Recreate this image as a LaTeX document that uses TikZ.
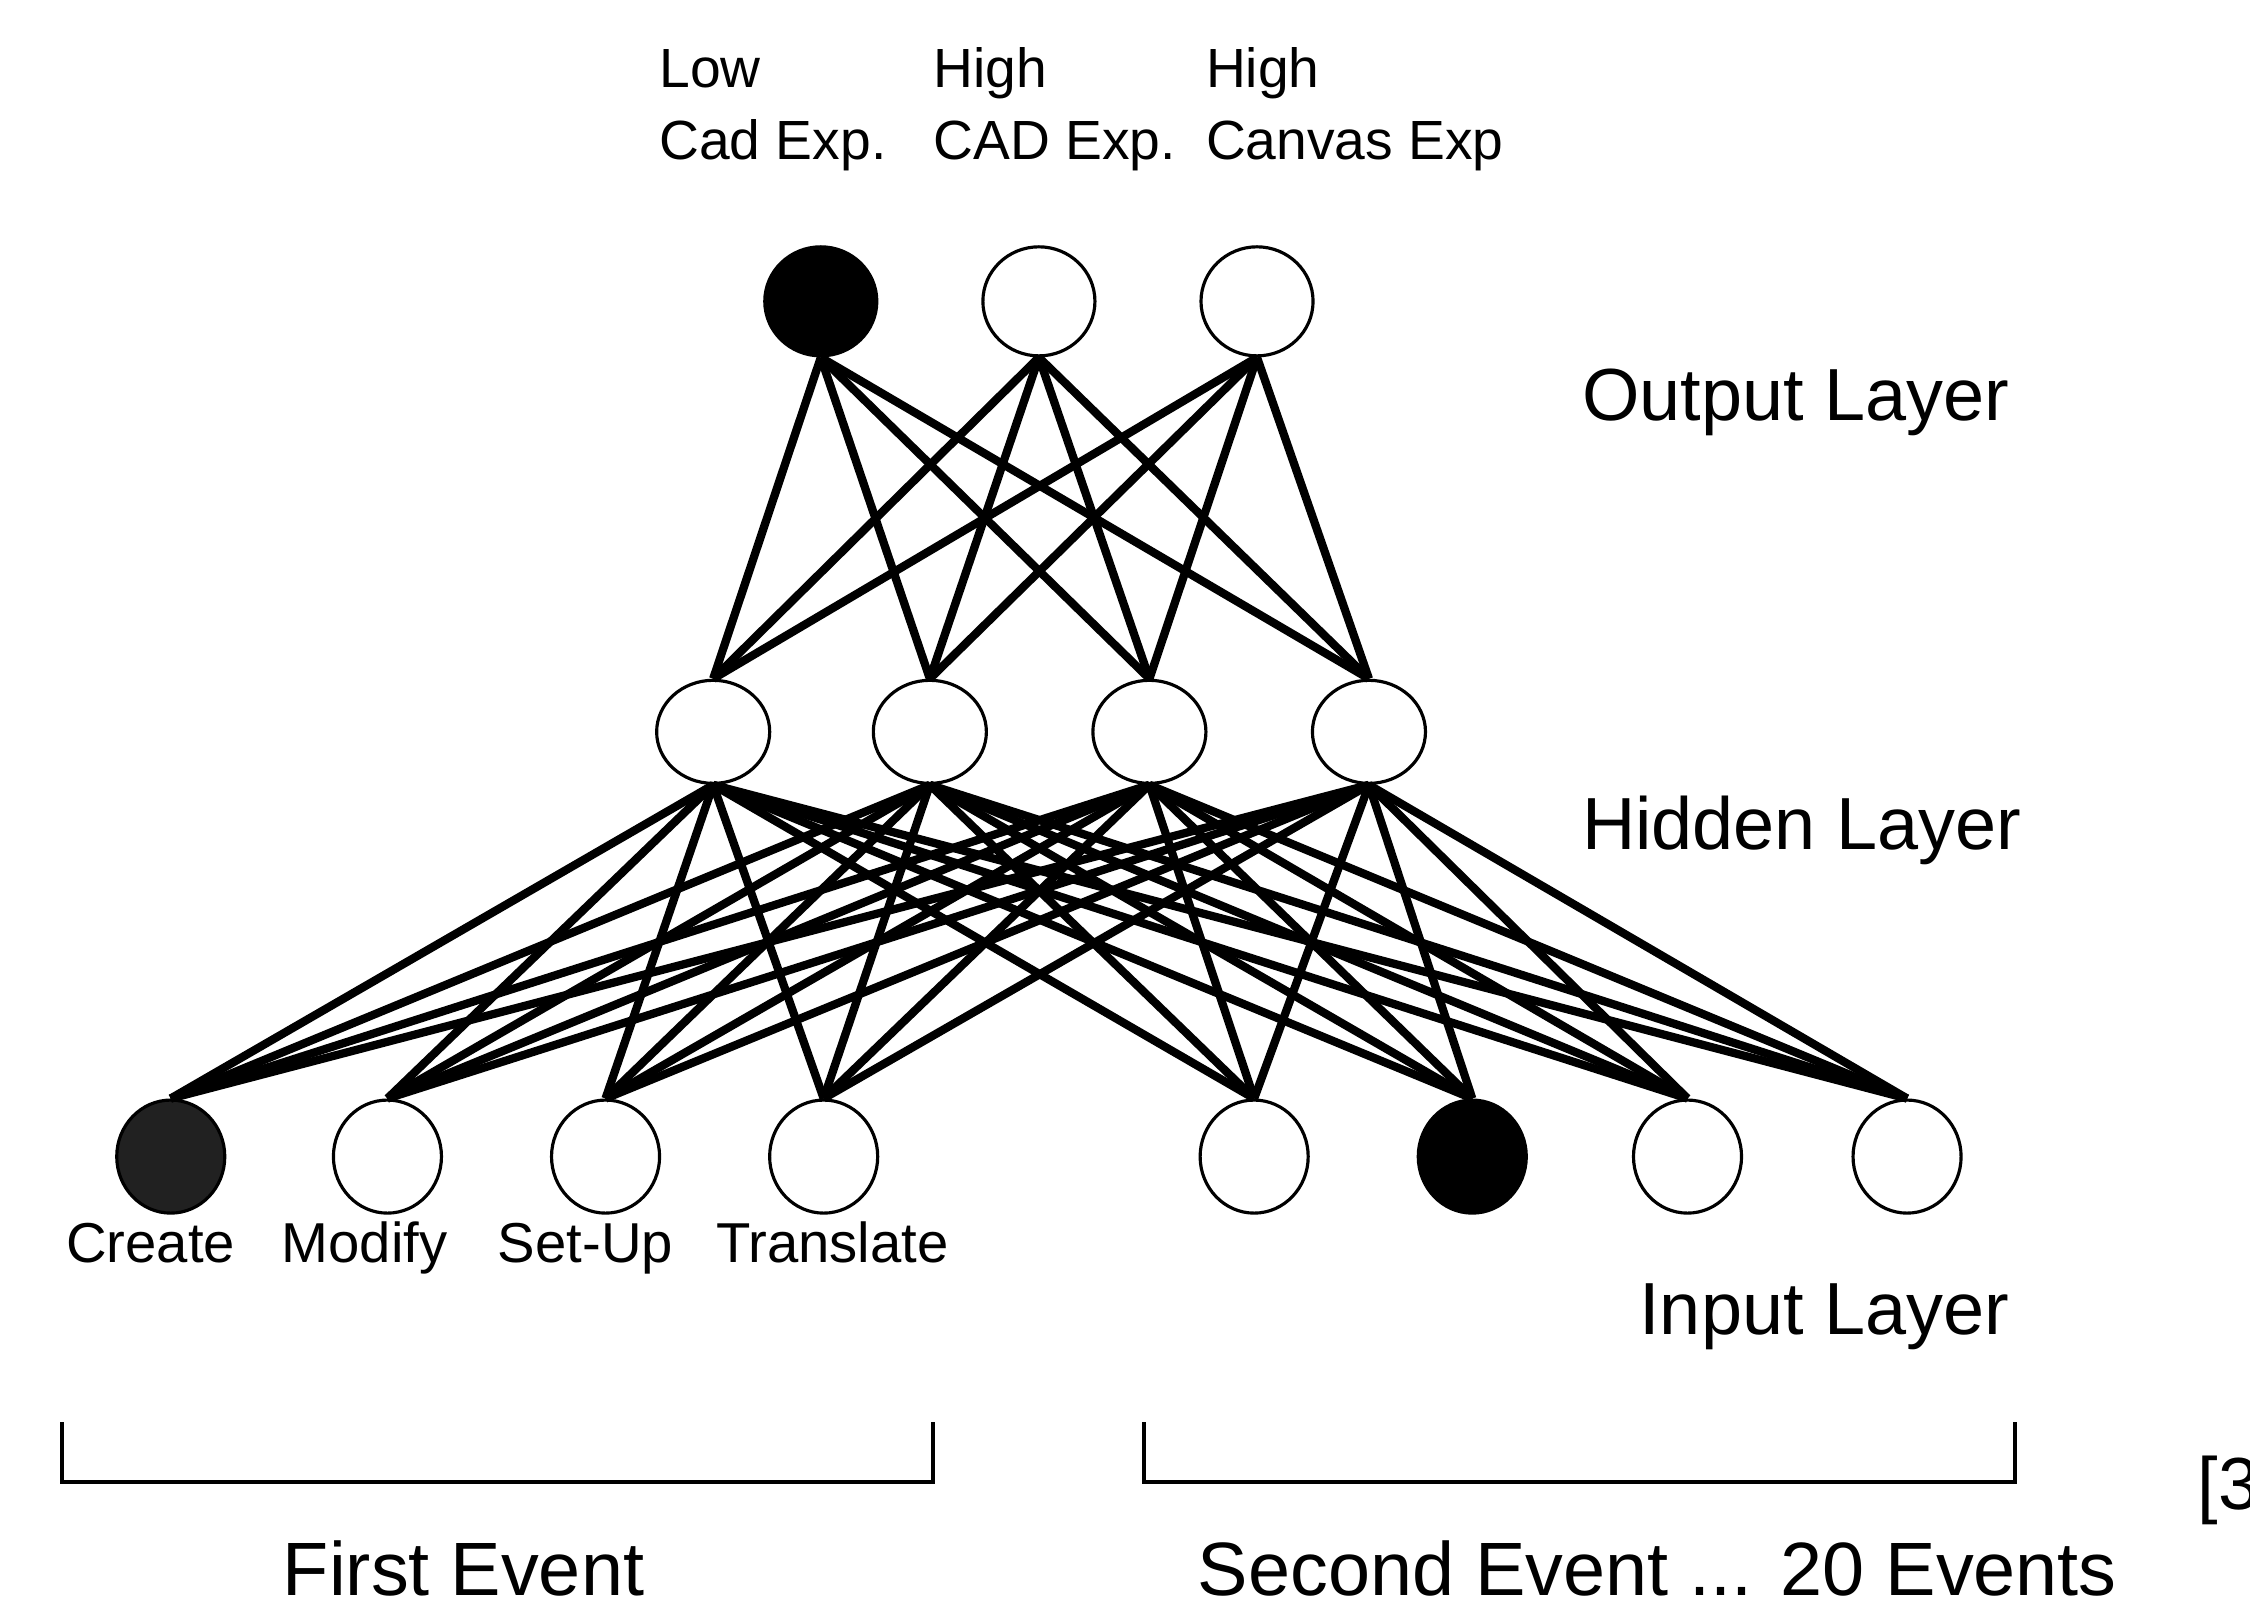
\documentclass[tikz,border=0pt]{standalone}
\usepackage{fontspec}
\setmainfont{Liberation Sans}
\usetikzlibrary{shapes.geometric}
\begin{document}
\begin{tikzpicture}[x=0.01435cm,y=-0.01435cm,
  neuron/.style={ellipse,draw,line width=0.9pt,fill=white,inner sep=0pt},
  outn/.style={neuron,minimum width=1.12cm,minimum height=1.09cm},
  hidn/.style={neuron,minimum width=1.13cm,minimum height=1.03cm},
  inn/.style={neuron,minimum width=1.08cm,minimum height=1.13cm},
  link/.style={line width=2.35pt},
  toplbl/.style={inner sep=0pt,anchor=base west,font=\fontsize{15.7}{18}\selectfont},
  layerlbl/.style={inner sep=0pt,anchor=base west,font=\fontsize{21}{25}\selectfont},
  inlbl/.style={inner sep=0pt,anchor=base,font=\fontsize{16}{19}\selectfont},
  evlbl/.style={inner sep=0pt,anchor=base,font=\fontsize{21.5}{25}\selectfont},
  brk/.style={line width=1.1pt}
]
\useasboundingbox (0,0) rectangle (1568,1120);
\begin{scope}
\clip (0,0) rectangle (1568,1120);
% output layer
\node[outn,fill=black] (o1) at (572,210) {};
\node[outn] (o2) at (724,210) {};
\node[outn] (o3) at (876,210) {};
% hidden layer
\node[hidn] (h1) at (497,510) {};
\node[hidn] (h2) at (648,510) {};
\node[hidn] (h3) at (801,510) {};
\node[hidn] (h4) at (954,510) {};
% input layer
\node[inn,fill=black!87] (i1) at (119,806) {};
\node[inn] (i2) at (270,806) {};
\node[inn] (i3) at (422,806) {};
\node[inn] (i4) at (574,806) {};
\node[inn] (i5) at (874,806) {};
\node[inn,fill=black] (i6) at (1026,806) {};
\node[inn] (i7) at (1176,806) {};
\node[inn] (i8) at (1329,806) {};
% connections
\foreach \h in {1,...,4}{
  \foreach \o in {1,2,3}{\draw[link] (h\h.north) -- (o\o.south);}
  \foreach \i in {1,...,8}{\draw[link] (i\i.north) -- (h\h.south);}
}
% top labels
\node[toplbl] (tl1) at (459,61) {Low};
\node[toplbl] (tl2) at (459,111) {Cad Exp.};
\node[toplbl] (tl3) at (650,61) {High};
\node[toplbl] (tl4) at (650,111) {CAD Exp.};
\node[toplbl] (tl5) at (840,61) {High};
\node[toplbl] (tl6) at (840,111) {Canvas Exp};
% layer labels
\node[layerlbl] (lo) at (1102,293) {Output Layer};
\node[layerlbl] (lh) at (1102,592) {Hidden Layer};
\node[layerlbl] (li) at (1142,930) {Input Layer};
% input labels
\node[inlbl] (c1) at (105,880) {Create};
\node[inlbl] (c2) at (254,880) {Modify};
\node[inlbl] (c3) at (408,880) {Set-Up};
\node[inlbl] (c4) at (580,880) {Translate};
% brackets
\coordinate (b1a) at (43,991);
\coordinate (b1b) at (43,1033);
\coordinate (b1c) at (650,1033);
\coordinate (b1d) at (650,991);
\draw[brk] (b1a) -- (b1b) -- (b1c) -- (b1d);
\coordinate (b2a) at (797,991);
\coordinate (b2b) at (797,1033);
\coordinate (b2c) at (1404,1033);
\coordinate (b2d) at (1404,991);
\draw[brk] (b2a) -- (b2b) -- (b2c) -- (b2d);
\node[evlbl] (e1) at (323,1112) {First Event};
\node[evlbl] (e2) at (1155,1112) {Second Event ... 20 Events};
\node[layerlbl] (ref) at (1531,1052) {[3};
\end{scope}
\end{tikzpicture}
\end{document}
